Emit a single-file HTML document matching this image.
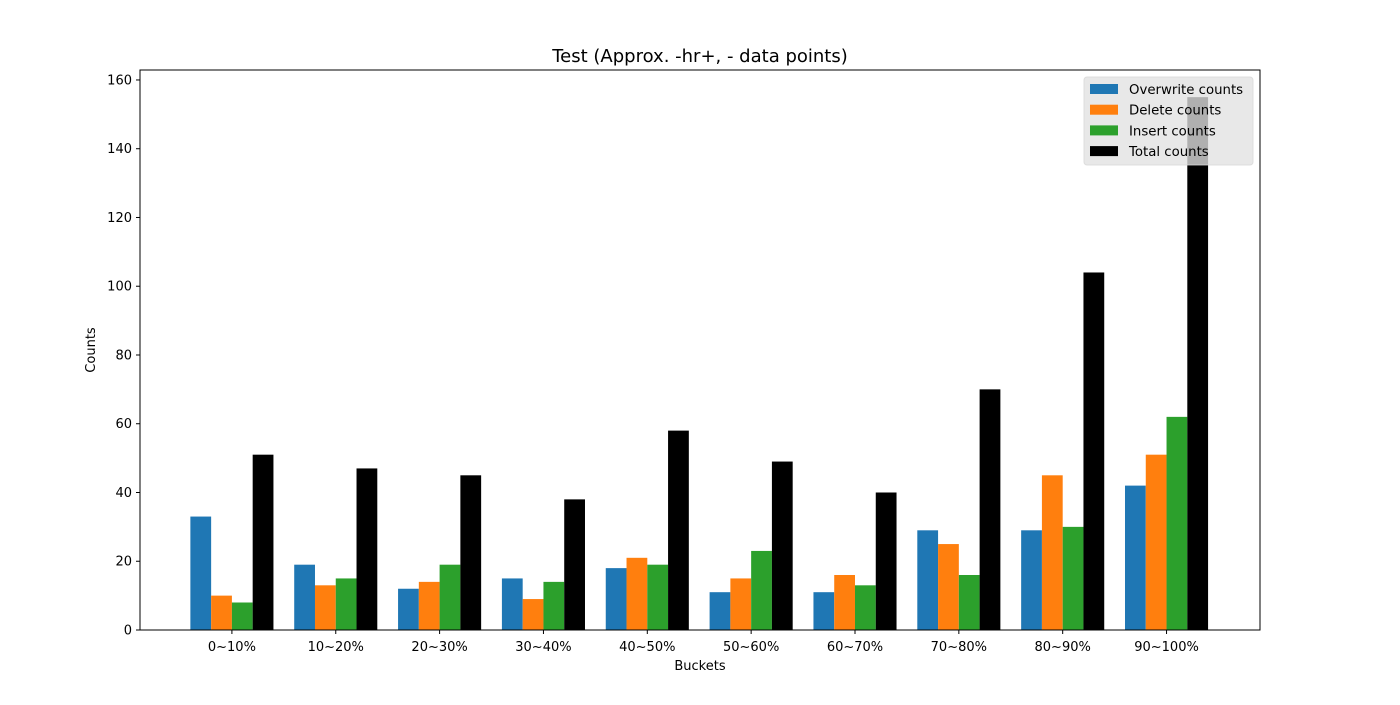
<!DOCTYPE html>
<html><head><meta charset="utf-8"><style>
body{margin:0;background:#fff;}
svg text{font-family:"DejaVu Sans","Liberation Sans",sans-serif;}
</style></head><body>
<svg id="chart" width="1400" height="700" xmlns="http://www.w3.org/2000/svg">
<rect width="1400" height="700" fill="#fff"/>
<text x="700" y="62" font-size="18" text-anchor="middle">Test (Approx. -hr+, - data points)</text>
<g id="bars"></g>
<g id="axes"></g>
<text x="700" y="670" font-size="13" text-anchor="middle">Buckets</text>
<text transform="translate(95,350) rotate(-90)" font-size="13" text-anchor="middle">Counts</text>
<g id="legend"></g>
</svg>
<script>
const categories=["0~10%","10~20%","20~30%","30~40%","40~50%","50~60%","60~70%","70~80%","80~90%","90~100%"];
const overwrite=[33,19,12,15,18,11,11,29,29,42];
const del=[10,13,14,9,21,15,16,25,45,51];
const insert=[8,15,19,14,19,23,13,16,30,62];
const total=[51,47,45,38,58,49,40,70,104,155];
const seriesNames=["Overwrite counts","Delete counts","Insert counts","Total counts"];
const yTicks=[0,20,40,60,80,100,120,140,160];

const NS="http://www.w3.org/2000/svg";
const L=140,R=1260,T=70,B=630;
const xMin=-0.885,xMax=9.9,yMax=162.9;
const xs=v=>L+(v-xMin)/(xMax-xMin)*(R-L);
const ys=v=>B-v/yMax*(B-T);
const colors=["#1f77b4","#ff7f0e","#2ca02c","#000000"];
const series=[overwrite,del,insert,total];
const bw=0.2;
function mk(tag,attrs,parent){const e=document.createElementNS(NS,tag);for(const k in attrs)e.setAttribute(k,attrs[k]);parent.appendChild(e);return e;}
const bars=document.getElementById('bars');
series.forEach((s,si)=>{s.forEach((v,i)=>{
  const c=i+(si-1.5)*bw;
  const r=mk('rect',{x:xs(c-bw/2),y:ys(v),width:xs(c+bw/2)-xs(c-bw/2),height:ys(0)-ys(v),fill:colors[si]},bars);
  
  
});});
const ax=document.getElementById('axes');
const frame=mk('rect',{x:L,y:T,width:R-L,height:B-T,fill:'none',stroke:'#000','stroke-width':1},ax);


yTicks.forEach(t=>{
  const y=ys(t);
  mk('line',{x1:L-4,x2:L,y1:y,y2:y,stroke:'#000'},ax);
  const tx=mk('text',{x:L-8,y:y+4.5,'font-size':13,'text-anchor':'end'},ax);
  tx.textContent=t;
  
  
});
categories.forEach((c,i)=>{
  const x=xs(i);
  mk('line',{x1:x,x2:x,y1:B,y2:B+4,stroke:'#000'},ax);
  const tx=mk('text',{x:x,y:B+21,'font-size':13,'text-anchor':'middle'},ax);
  tx.textContent=c;
  
  
});
const lg=document.getElementById('legend');
const box=mk('rect',{x:1084,y:77,width:169,height:88,rx:3,fill:'rgba(226,226,226,0.78)',stroke:'rgba(215,215,215,0.8)'},lg);


seriesNames.forEach((n,i)=>{
  const y=89+i*20.7;
  mk('rect',{x:1090,y:y-5,width:28,height:10,fill:colors[i]},lg);
  const tx=mk('text',{x:1129,y:y+5,'font-size':13.3},lg);
  tx.textContent=n;
  
  
});
</script>
</body></html>
